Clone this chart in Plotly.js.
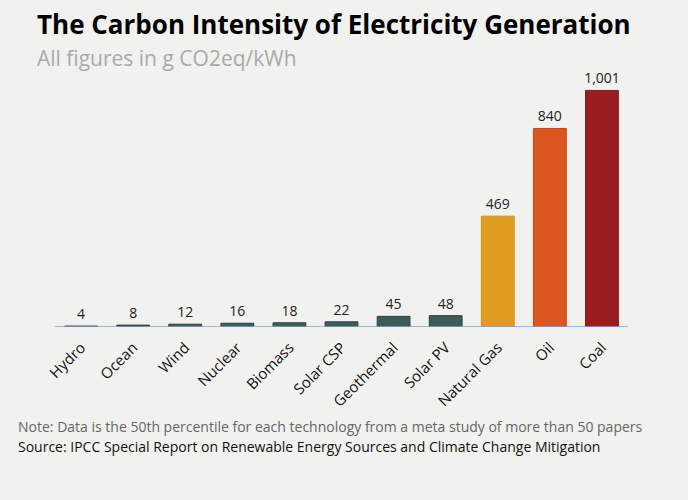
<!DOCTYPE html>
<html><head><meta charset="utf-8">
<script src="https://cdn.plot.ly/plotly-3.0.1.min.js"></script>
<style>body{margin:0;background:#f1f1f0;}#c{width:688px;height:500px;}</style>
</head><body><div id="c"></div>
<script>
const categories = ["Hydro","Ocean","Wind","Nuclear","Biomass","Solar CSP","Geothermal","Solar PV","Natural Gas","Oil","Coal"];
const values = [4, 8, 12, 16, 18, 22, 45, 48, 469, 840, 1001];
const valueLabels = ["4","8","12","16","18","22","45","48","469","840","1,001"];
const barColors = ["#3d5b59","#3d5b59","#3d5b59","#3d5b59","#3d5b59","#3d5b59","#3d5b59","#3d5b59","#e09d22","#d9561f","#981e22"];
const lineColors = ["#2c4341","#2c4341","#2c4341","#2c4341","#2c4341","#2c4341","#2c4341","#2c4341","#d88f12","#d0401a","#8a1418"];

const trace = {
  type: "bar", x: categories, y: values,
  text: valueLabels, textposition: "outside", cliponaxis: false, constraintext: "none",
  textfont: {family: "Open Sans, sans-serif", size: 14, color: "#222"},
  marker: {color: barColors, line: {color: lineColors, width: 1}},
  width: 0.63, hoverinfo: "none"
};
const layout = {
  width: 688, height: 500,
  paper_bgcolor: "#f1f1f0", plot_bgcolor: "rgba(0,0,0,0)",
  margin: {l: 55, r: 60, t: 67, b: 173},
  showlegend: false,
  xaxis: {
    range: [-0.5, 10.5], showgrid: false, zeroline: false,
    showline: false, tickangle: -45, ticks: "", ticklen: 0, ticklabelstandoff: 8,
    tickfont: {family: "Open Sans, sans-serif", size: 15, color: "#111"}
  },
  yaxis: {
    range: [0, 1100], visible: false, showgrid: false, zeroline: false
  },
  shapes: [{type: "line", xref: "paper", yref: "y", x0: 0, x1: 1, y0: 0, y1: 0,
    line: {color: "#7ea6d8", width: 1.5}}],
  annotations: [
    {xref: "paper", yref: "paper", x: -0.035, y: 1.165, xanchor: "left", yanchor: "middle", showarrow: false,
     text: "<b>The Carbon Intensity of Electricity Generation</b>",
     font: {family: "Open Sans, sans-serif", size: 26, color: "#000"}},
    {xref: "paper", yref: "paper", x: -0.035, y: 1.036, xanchor: "left", yanchor: "middle", showarrow: false,
     text: "All figures in g CO2eq/kWh",
     font: {family: "Open Sans, sans-serif", size: 21, color: "#aaaaaa"}},
    {xref: "paper", yref: "paper", x: -0.068, y: -0.381, xanchor: "left", yanchor: "middle", showarrow: false,
     text: "Note: Data is the 50th percentile for each technology from a meta study of more than 50 papers",
     font: {family: "Open Sans, sans-serif", size: 14, color: "#666"}},
    {xref: "paper", yref: "paper", x: -0.068, y: -0.458, xanchor: "left", yanchor: "middle", showarrow: false,
     text: "Source: IPCC Special Report on Renewable Energy Sources and Climate Change Mitigation",
     font: {family: "Open Sans, sans-serif", size: 14, color: "#111"}}
  ]
};
Plotly.newPlot("c", [trace], layout, {displayModeBar: false, staticPlot: true});
</script></body></html>
